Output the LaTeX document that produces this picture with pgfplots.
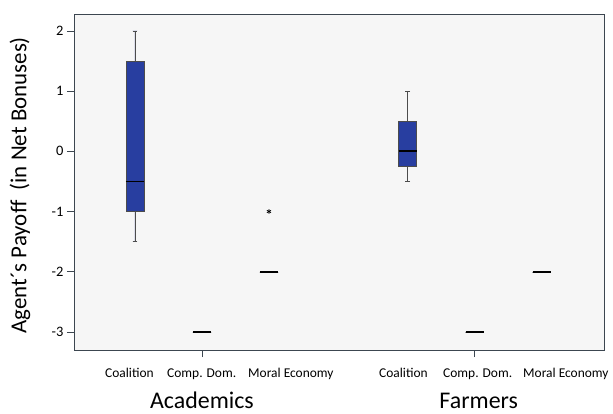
\documentclass[border=0pt]{standalone}
\usepackage{pgfplots}
\pgfplotsset{compat=1.18}
\usepgfplotslibrary{statistics}
\usepackage{fontspec}
\setmainfont{Carlito}
\definecolor{boxblue}{RGB}{40,62,160}
\definecolor{bgc}{RGB}{246,246,246}
\definecolor{framec}{RGB}{60,70,80}
\tikzset{
  catlab/.style={font=\fontsize{13.5}{16}\selectfont, anchor=base west, inner sep=0pt},
  grplab/.style={font=\fontsize{24}{28}\selectfont, anchor=base, inner sep=0pt},
}
\begin{document}
\begin{tikzpicture}
\begin{axis}[
  at={(0,0)}, anchor=south west,
  scale only axis,
  width=530bp, height=336bp,
  xmin=0.09, xmax=8.0,
  ymin=-3.3, ymax=2.28,
  axis background/.style={fill=bgc},
  axis line style={framec, line width=0.8pt},
  ytick={-3,-2,-1,0,1,2},
  yticklabels={-3,-2,-1,0,1,2},
  yticklabel style={font=\fontsize{14.5}{17}\selectfont},
  ytick style={framec, line width=0.6pt},
  tick align=outside,
  major tick length=7bp,
  ytick pos=left,
  xtick pos=bottom,
  xtick={2,6.07},
  xticklabels={},
  xtick style={draw=framec, line width=0.6pt},
  /pgf/number format/assume math mode=true,
  clip=false,
  boxplot/draw direction=y,
  boxplot/box extend=0.27,
  boxplot/whisker extend=0.07,
]
\addplot+[boxplot prepared={lower whisker=-1.5, lower quartile=-1, median=-0.5, upper quartile=1.5, upper whisker=2, draw position=1},
  fill=boxblue, draw=black!70, line width=0.5pt, solid, mark=none,
  boxplot/every median/.style={draw=black, line width=1.6pt}] coordinates {};
\addplot+[boxplot prepared={lower whisker=-3, lower quartile=-3, median=-3, upper quartile=-3, upper whisker=-3, draw position=2},
  draw=black, line width=0.4pt, solid, mark=none,
  boxplot/every median/.style={draw=black, line width=1.6pt}] coordinates {};
\addplot+[boxplot prepared={lower whisker=-2, lower quartile=-2, median=-2, upper quartile=-2, upper whisker=-2, draw position=3},
  draw=black, line width=0.4pt, solid, mark=none,
  boxplot/every median/.style={draw=black, line width=1.6pt}] coordinates {};
\addplot[only marks, mark=asterisk, mark size=2.4pt, black, mark options={line width=0.7pt}] coordinates {(3,-1)};
\addplot+[boxplot prepared={lower whisker=-0.5, lower quartile=-0.25, median=0, upper quartile=0.5, upper whisker=1, draw position=5.07},
  fill=boxblue, draw=black!70, line width=0.5pt, solid, mark=none,
  boxplot/every median/.style={draw=black, line width=1.6pt}] coordinates {};
\addplot+[boxplot prepared={lower whisker=-3, lower quartile=-3, median=-3, upper quartile=-3, upper whisker=-3, draw position=6.07},
  draw=black, line width=0.4pt, solid, mark=none,
  boxplot/every median/.style={draw=black, line width=1.6pt}] coordinates {};
\addplot+[boxplot prepared={lower whisker=-2, lower quartile=-2, median=-2, upper quartile=-2, upper whisker=-2, draw position=7.07},
  draw=black, line width=0.4pt, solid, mark=none,
  boxplot/every median/.style={draw=black, line width=1.6pt}] coordinates {};
\node[catlab] at (axis cs:0.553,-3.75) {Coalition};
\node[catlab] at (axis cs:1.478,-3.75) {Comp. Dom.};
\node[catlab] at (axis cs:2.687,-3.75) {Moral Economy};
\node[catlab] at (axis cs:4.642,-3.75) {Coalition};
\node[catlab] at (axis cs:5.597,-3.75) {Comp. Dom.};
\node[catlab] at (axis cs:6.791,-3.75) {Moral Economy};
\node[grplab] at (axis cs:2,-4.27) {Academics};
\node[grplab] at (axis cs:6.13,-4.27) {Farmers};
\node[font=\fontsize{23}{27}\selectfont, rotate=90, anchor=center, inner sep=0pt] at ([xshift=-54bp]rel axis cs:0,0.49) {Agent´s Payoff\ \ (in Net Bonuses)};
\end{axis}
\pgfresetboundingbox
\path (-74bp,-64bp) rectangle (539bp,350bp);
\end{tikzpicture}
\end{document}
